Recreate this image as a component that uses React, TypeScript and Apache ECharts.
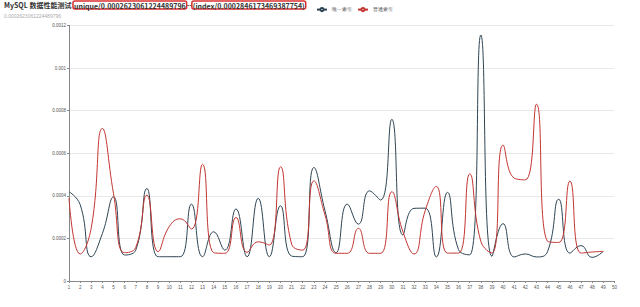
import React, { useEffect, useRef } from "react";
import * as echarts from "echarts";

const categories: string[] = Array.from({ length: 50 }, (_, i) => String(i + 1));

const uniqueValues: number[] = [
  0.000419, 0.000359, 0.000114, 0.000223, 0.000395, 0.000122, 0.000145, 0.000434, 0.000114, 0.000114,
  0.000114, 0.000361, 0.000114, 0.000231, 0.000145, 0.000338, 0.000114, 0.000388, 0.000114, 0.000353,
  0.000117, 0.000114, 0.000533, 0.00033, 0.000133, 0.000361, 0.000267, 0.000423, 0.00038, 0.000759,
  0.000216, 0.000341, 0.000342, 0.000113, 0.000416, 0.000147, 0.000123, 0.001155, 0.000116, 0.000269,
  0.000113, 0.000127, 0.000113, 0.000139, 0.000384, 0.000131, 0.000166, 0.000111, 0.000139,
];

const indexValues: number[] = [
  0.00039, 0.000127, 0.00025, 0.000716, 0.00041, 0.000133, 0.000158, 0.000403, 0.000138, 0.000255,
  0.000292, 0.000244, 0.000548, 0.000133, 0.00013, 0.000298, 0.000135, 0.000184, 0.000169, 0.000536,
  0.000173, 0.000145, 0.00047, 0.00031, 0.00013, 0.00013, 0.000247, 0.00013, 0.00013, 0.000419,
  0.000231, 0.000127, 0.00033, 0.000444, 0.000131, 0.000131, 0.000503, 0.000186, 0.000131, 0.000638,
  0.000483, 0.000475, 0.00083, 0.000186, 0.000181, 0.000469, 0.000131, 0.000136, 0.000139,
];

const seriesNames: string[] = ["唯一索引", "普通索引"];
const yTicks = { min: 0, max: 0.0012, interval: 0.0002 };
const titleMain = "MySQL 数据性能测试";
const uniqueLabel = "unique/0.0002623061224489796";
const indexLabel = "(index/0.0002846173469387754)";
const subText = "0.0002623061224489796";

export default function App() {
  const ref = useRef<HTMLDivElement>(null);
  useEffect(() => {
    document.body.style.margin = "0";
    if (!ref.current) return;
    const chart = echarts.init(ref.current, undefined, { renderer: "svg" });
    chart.setOption({
      animation: false,
      title: {
        left: 2,
        top: 0,
        itemGap: 3,
        padding: [1, 2],
        text: `${titleMain} {b|${uniqueLabel}}--{b|${indexLabel}}`,
        textStyle: {
          fontSize: 7,
          fontWeight: "bold",
          color: "#333",
          fontFamily: "Noto Sans CJK SC, sans-serif",
          rich: {
            b: {
              fontSize: 7,
              fontWeight: "bold",
              color: "#333",
              fontFamily: "Noto Sans CJK SC, sans-serif",
              borderColor: "#d9302f",
              borderWidth: 1.5,
              borderRadius: 2,
              padding: [1, 1, 0, 1],
            },
          },
        },
        subtext: subText,
        subtextStyle: { fontSize: 5, color: "#aaa" },
      },
      legend: {
        data: seriesNames,
        left: 311,
        top: 2,
        itemWidth: 10,
        itemHeight: 4,
        itemGap: 5,
        textStyle: { fontSize: 4.5, color: "#555" },
      },
      grid: { left: 69, right: 25.6, top: 25.4, bottom: 26 },
      xAxis: {
        type: "category",
        data: categories,
        boundaryGap: false,
        axisLine: { lineStyle: { color: "#888" } },
        axisTick: { length: 2, interval: 0, lineStyle: { color: "#888" } },
        axisLabel: { fontSize: 4.5, color: "#555", interval: 0, margin: 4 },
      },
      yAxis: {
        type: "value",
        min: yTicks.min,
        max: yTicks.max,
        interval: yTicks.interval,
        axisLine: { show: true, lineStyle: { color: "#888" } },
        axisTick: { show: true, length: 2, lineStyle: { color: "#888" } },
        axisLabel: { fontSize: 4.5, color: "#555", margin: 3 },
        splitLine: { lineStyle: { color: "#e8e8e8" } },
      },
      series: [
        {
          name: seriesNames[0],
          type: "line",
          smooth: true,
          data: uniqueValues,
          symbol: "emptyCircle",
          symbolSize: 4,
          showSymbol: false,
          itemStyle: { color: "#2f4554", borderWidth: 0.8 },
          lineStyle: { width: 1, color: "#2f4554" },
        },
        {
          name: seriesNames[1],
          type: "line",
          smooth: true,
          data: indexValues,
          symbol: "emptyCircle",
          symbolSize: 4,
          showSymbol: false,
          itemStyle: { color: "#c23531", borderWidth: 0.8 },
          lineStyle: { width: 1, color: "#c23531" },
        },
      ],
    });
    return () => chart.dispose();
  }, []);
  return <div ref={ref} style={{ width: 640, height: 307 }} />;
}
